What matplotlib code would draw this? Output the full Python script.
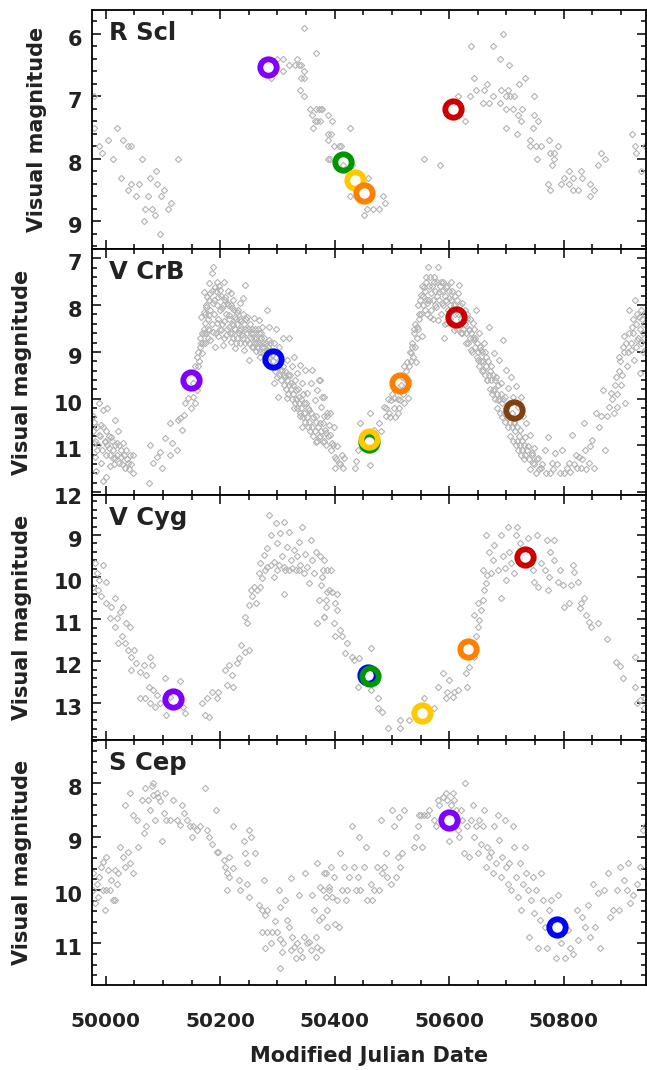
import numpy as np
import matplotlib
matplotlib.use("Agg")
import matplotlib.pyplot as plt
import matplotlib.transforms as mtransforms
from matplotlib.ticker import MultipleLocator

plt.rcParams["font.family"] = ["DejaVu Sans"]
plt.rcParams["font.weight"] = "bold"

stars = ["R Scl", "V CrB", "V Cyg", "S Cep"]

# visual light curves (MJD, mag)
rscl_lc = [
    (49979, 7.0), (49979, 7.5), (49988, 7.8), (49993, 7.9), (50004, 7.7), (50019, 7.5), (50012, 8.0),
    (50030, 7.7), (50039, 7.8), (50044, 7.8), (50063, 8.0), (50026, 8.3), (50039, 8.5), (50044, 8.4),
    (50053, 8.6), (50058, 8.4), (50074, 8.6), (50077, 8.3), (50088, 8.2), (50090, 8.4), (50096, 8.6),
    (50102, 8.5), (50114, 8.7), (50109, 8.8), (50069, 8.8), (50080, 8.8), (50086, 8.9), (50067, 9.0),
    (50095, 9.2), (50127, 8.0),
    (50289, 6.7), (50299, 6.4), (50310, 6.4), (50310, 6.6), (50321, 6.5), (50331, 6.5), (50335, 6.4),
    (50338, 6.5), (50342, 6.5), (50347, 5.9), (50347, 6.6), (50342, 6.7), (50347, 6.7), (50367, 6.3),
    (50339, 6.9), (50346, 7.0), (50357, 7.2), (50367, 7.2), (50372, 7.2), (50377, 7.2), (50361, 7.3),
    (50366, 7.4), (50370, 7.4), (50363, 7.5), (50389, 7.3), (50389, 7.6), (50389, 7.7), (50389, 8.0),
    (50378, 7.2), (50375, 7.4), (50396, 7.4), (50393, 7.6), (50398, 7.8), (50408, 7.8), (50411, 7.8),
    (50427, 7.5), (50391, 8.0), (50414, 8.1), (50431, 8.1), (50458, 8.3), (50427, 8.6), (50438, 8.6),
    (50485, 8.6), (50488, 8.7), (50456, 8.8), (50467, 8.8), (50477, 8.8), (50451, 8.9), (50556, 8.0),
    (50584, 8.1),
    (50616, 7.0), (50627, 7.4), (50639, 6.2), (50644, 6.7), (50637, 7.0), (50647, 6.9), (50661, 6.9),
    (50667, 6.8), (50660, 7.1), (50670, 7.1), (50677, 6.2), (50695, 6.0), (50689, 6.4), (50705, 6.5),
    (50677, 7.0), (50691, 6.9), (50703, 6.9), (50700, 7.0), (50707, 7.0), (50714, 7.0), (50689, 7.1),
    (50700, 7.2), (50711, 7.2), (50722, 6.8), (50733, 6.7), (50721, 7.3), (50728, 7.2), (50725, 7.4),
    (50700, 7.5), (50718, 7.6), (50749, 7.0), (50749, 7.3), (50756, 7.4), (50746, 7.5), (50742, 7.7),
    (50742, 7.8), (50752, 7.8), (50761, 7.8), (50775, 7.7), (50791, 7.8), (50777, 7.9), (50784, 7.9),
    (50753, 8.0), (50784, 8.0), (50779, 8.1), (50809, 8.2), (50800, 8.3), (50816, 8.3), (50830, 8.2),
    (50833, 8.3), (50772, 8.4), (50795, 8.4), (50809, 8.4), (50777, 8.5), (50816, 8.5), (50826, 8.5),
    (50846, 8.4), (50854, 8.5), (50847, 8.6), (50865, 7.9), (50872, 8.0), (50860, 8.1), (50919, 7.6),
    (50924, 7.8), (50926, 7.9), (50943, 7.8), (50935, 8.2),
]

vcrb_lc = [
    (49977, 10.38), (49978, 10.70), (49979, 10.95), (49981, 11.24), (49984, 11.10), (49988, 10.77),
    (49989, 10.10), (49992, 10.56), (49992, 11.38), (49995, 10.24), (49998, 10.92), (50000, 11.20),
    (50001, 10.70), (50002, 10.20), (50006, 11.06), (50007, 11.45), (50010, 10.81), (50013, 11.10),
    (50016, 10.45), (50016, 11.27), (50019, 10.95), (50022, 10.70), (50023, 11.38), (50026, 11.10),
    (50027, 11.24), (50030, 10.95), (50033, 11.49), (50000, 11.67), (50039, 11.38), (50043, 11.20),
    (50048, 11.20), (50047, 11.59), (50035, 11.10), (50013, 11.27), (49983, 11.55), (49995, 11.75),
    (49980, 10.5), (49982, 10.9), (49985, 10.6), (49987, 11.0), (49990, 10.8), (49993, 11.1),
    (49996, 10.6), (49999, 10.9), (50003, 11.0), (50005, 10.8), (50008, 11.2), (50011, 10.9),
    (50014, 11.4), (50017, 11.0), (50020, 11.2), (50024, 11.0), (50028, 11.4), (50032, 11.2),
    (50037, 11.3), (50041, 11.5), (50045, 11.4),
    (50076, 11.81), (50078, 10.99), (50083, 11.38), (50090, 11.24), (50095, 11.13), (50099, 11.49),
    (50104, 10.85), (50112, 11.20), (50113, 10.53), (50115, 10.95), (50125, 11.10), (50127, 10.45),
    (50130, 10.42), (50133, 10.67), (50136, 10.35), (50139, 10.10), (50144, 9.99), (50149, 10.20),
    (50153, 9.96), (50156, 10.10), (50152, 9.67), (50159, 9.81), (50156, 9.31), (50160, 9.10),
    (50164, 8.89), (50165, 8.71), (50168, 9.03), (50170, 8.82), (50172, 8.60), (50166, 8.25),
    (50171, 8.14), (50174, 8.39), (50176, 8.03), (50172, 7.71), (50177, 7.82), (50180, 8.21),
    (50158, 9.5), (50161, 9.3), (50162, 9.0), (50163, 9.2), (50167, 8.8), (50169, 8.6),
    (50171, 8.5), (50173, 8.8), (50174, 8.2), (50176, 8.6), (50178, 8.5), (50179, 8.7),
    (50181, 7.53), (50186, 7.32), (50188, 7.18), (50183, 7.75), (50187, 7.96), (50191, 7.61),
    (50194, 7.50), (50197, 7.82), (50200, 7.68), (50203, 8.07), (50206, 7.50), (50209, 7.82),
    (50212, 7.96), (50215, 8.21), (50218, 7.75), (50221, 8.07), (50223, 7.89), (50226, 8.25),
    (50229, 8.14), (50234, 7.96), (50236, 8.35), (50244, 7.57), (50240, 7.85), (50247, 8.25),
    (50259, 8.28), (50267, 8.32), (50282, 8.10), (50273, 8.46), (50285, 8.46), (50297, 8.50),
    (50180, 8.53), (50183, 8.75), (50188, 8.57), (50191, 8.89), (50194, 8.39), (50197, 8.67),
    (50201, 8.53), (50205, 8.85), (50207, 8.35), (50211, 8.64), (50215, 8.46), (50218, 8.78),
    (50221, 8.60), (50223, 8.42), (50226, 8.92), (50229, 8.71), (50232, 8.53), (50235, 8.82),
    (50238, 8.64), (50241, 8.96), (50244, 8.50), (50247, 8.75), (50250, 9.17), (50253, 8.60),
    (50256, 8.89), (50259, 8.71), (50262, 8.99), (50264, 8.82), (50267, 8.60), (50270, 9.10),
    (50273, 8.89), (50276, 8.71), (50279, 9.21), (50282, 8.96), (50285, 8.75), (50288, 9.31),
    (50291, 9.07), (50294, 8.82), (50300, 9.53), (50302, 8.89), (50305, 9.24), (50310, 8.71),
    (50314, 9.53), (50317, 9.17), (50320, 8.71), (50323, 9.67), (50326, 9.31), (50329, 9.10),
    (50332, 9.81), (50335, 9.46), (50338, 9.96), (50340, 9.28), (50343, 9.67), (50346, 10.10),
    (50349, 9.38), (50352, 9.88), (50355, 10.24), (50358, 9.67), (50361, 9.38), (50365, 10.03),
    (50367, 10.38), (50370, 9.81), (50373, 9.60), (50376, 10.17), (50379, 10.53), (50381, 9.96),
    (50384, 10.74), (50387, 10.31), (50390, 10.56), (50294, 9.67), (50301, 9.96), (50308, 9.38),
    (50317, 9.99), (50329, 10.20), (50340, 10.38), (50343, 10.60), (50367, 10.92), (50373, 10.81),
    (50175, 8.0), (50178, 8.3), (50180, 7.9), (50183, 8.1), (50185, 7.7), (50186, 8.4), (50189, 7.9),
    (50190, 8.2), (50192, 8.6), (50193, 7.7), (50195, 8.0), (50196, 8.3), (50198, 7.6), (50199, 8.5),
    (50200, 8.1), (50202, 7.8), (50204, 8.4), (50205, 8.0), (50207, 8.7), (50208, 7.9), (50210, 8.2),
    (50212, 8.5), (50213, 7.7), (50214, 8.0), (50216, 8.3), (50217, 8.6), (50219, 8.0), (50220, 8.4),
    (50222, 8.7), (50224, 8.1), (50225, 8.5), (50227, 8.3), (50228, 8.8), (50230, 8.4), (50231, 8.1),
    (50233, 8.6), (50234, 8.3), (50237, 8.5), (50239, 8.7), (50240, 8.2), (50242, 8.4), (50243, 8.8),
    (50245, 8.3), (50246, 8.6), (50248, 8.5), (50250, 8.8), (50252, 8.4), (50254, 8.7), (50255, 8.5),
    (50257, 8.9), (50258, 8.6), (50260, 8.5), (50261, 8.8), (50263, 8.7), (50265, 8.9), (50266, 8.5),
    (50268, 8.8), (50269, 9.0), (50271, 8.7), (50272, 8.6), (50274, 9.0), (50275, 8.8), (50277, 8.9),
    (50278, 9.1), (50280, 8.8), (50281, 9.0), (50283, 9.2), (50284, 8.9), (50286, 9.1), (50287, 8.8),
    (50289, 9.0), (50290, 9.3), (50292, 9.2), (50296, 9.4), (50298, 9.1), (50299, 9.3), (50303, 9.5),
    (50304, 9.2), (50306, 9.6), (50307, 9.4), (50309, 9.3), (50311, 9.7), (50312, 9.5), (50313, 9.4),
    (50315, 9.8), (50316, 9.6), (50318, 9.5), (50319, 9.9), (50321, 9.7), (50322, 9.5), (50324, 9.8),
    (50325, 10.0), (50327, 9.7), (50328, 9.9), (50330, 10.1), (50331, 9.6), (50333, 10.0),
    (50334, 10.2), (50336, 9.8), (50337, 10.1), (50339, 10.3), (50341, 10.0), (50342, 10.2),
    (50344, 10.4), (50345, 9.9), (50347, 10.3), (50348, 10.5), (50350, 10.1), (50351, 10.4),
    (50353, 10.6), (50354, 10.2), (50356, 10.5), (50357, 10.7), (50359, 10.3), (50360, 10.6),
    (50362, 10.8), (50363, 10.4), (50366, 10.7), (50368, 10.5), (50369, 10.9), (50371, 10.6),
    (50374, 10.8), (50377, 10.7), (50382, 10.9), (50385, 11.0), (50388, 10.8), (50393, 11.1),
    (50397, 11.0), (50402, 11.3), (50409, 11.4), (50412, 11.2),
    (50375, 9.60), (50378, 9.96), (50381, 10.38), (50375, 10.53), (50383, 10.67), (50386, 10.38),
    (50391, 10.31), (50380, 10.92), (50392, 10.77), (50395, 10.95), (50398, 10.60), (50401, 11.24),
    (50404, 11.02), (50401, 11.49), (50407, 11.38), (50416, 11.27), (50415, 11.49), (50436, 11.49),
    (50438, 11.34), (50440, 11.10), (50445, 10.53), (50448, 10.85), (50461, 10.31), (50462, 11.42),
    (50468, 10.67), (50477, 10.53), (50481, 10.70), (50486, 10.17), (50489, 10.38), (50495, 10.31),
    (50498, 10.03), (50504, 9.99), (50510, 10.31), (50515, 10.03), (50518, 9.53), (50522, 9.31),
    (50527, 9.21), (50528, 9.99), (50533, 9.03), (50536, 8.82), (50542, 9.21), (50539, 8.60),
    (50490, 10.2), (50493, 10.0), (50497, 10.4), (50500, 9.9), (50503, 10.2), (50506, 10.4),
    (50508, 9.8), (50511, 10.0), (50513, 10.2), (50516, 9.7), (50519, 9.9), (50521, 10.1),
    (50524, 9.6), (50525, 9.4), (50529, 9.6), (50530, 9.3), (50532, 9.0), (50534, 9.2),
    (50535, 8.9), (50537, 9.1), (50538, 8.5), (50540, 8.9), (50541, 8.4), (50543, 8.7),
    (50545, 8.0), (50546, 8.5), (50548, 8.3), (50549, 7.9), (50551, 8.2), (50552, 7.6), (50554, 8.0),
    (50544, 8.46), (50547, 8.18), (50550, 7.78), (50553, 8.67), (50556, 7.61), (50559, 7.50),
    (50562, 7.96), (50563, 7.18), (50567, 8.25), (50569, 7.75), (50574, 7.50), (50577, 8.03),
    (50580, 7.18), (50581, 8.32), (50583, 7.71), (50585, 7.50), (50588, 7.96), (50591, 8.71),
    (50594, 7.61), (50597, 8.39), (50600, 7.85), (50603, 7.50), (50606, 8.10), (50609, 8.53),
    (50615, 7.75), (50617, 7.57), (50620, 8.60), (50623, 7.96), (50626, 8.32), (50629, 8.82),
    (50555, 7.8), (50557, 8.1), (50558, 7.7), (50560, 7.4), (50561, 7.9), (50562, 8.2), (50564, 7.6),
    (50565, 7.9), (50566, 7.4), (50568, 8.1), (50570, 7.6), (50571, 7.9), (50572, 8.3), (50573, 7.4),
    (50575, 7.7), (50576, 8.0), (50578, 7.5), (50579, 7.8), (50582, 7.9), (50584, 7.6), (50586, 8.2),
    (50587, 7.7), (50589, 7.5), (50590, 8.0), (50592, 7.8), (50593, 8.4), (50595, 7.9), (50596, 7.6),
    (50598, 8.1), (50599, 7.7), (50601, 8.0), (50602, 8.3), (50604, 7.9), (50605, 7.7), (50607, 8.4),
    (50608, 8.0), (50610, 7.8), (50611, 8.2), (50613, 8.5), (50614, 7.9), (50616, 8.2), (50618, 8.4),
    (50619, 8.0), (50621, 8.3), (50622, 8.6), (50624, 8.2), (50625, 8.5), (50627, 8.4), (50628, 8.1),
    (50630, 8.6), (50631, 8.3), (50633, 8.8), (50634, 8.5), (50636, 8.3), (50637, 8.7), (50639, 8.6),
    (50640, 9.0), (50642, 8.7), (50643, 8.5), (50645, 8.9), (50646, 8.7), (50648, 9.1), (50649, 8.8),
    (50651, 9.0), (50652, 9.3), (50654, 8.9), (50655, 9.2), (50657, 9.0), (50658, 9.4), (50660, 9.2),
    (50662, 9.5), (50663, 9.0), (50665, 9.3), (50666, 9.6), (50668, 9.2), (50669, 9.5), (50671, 9.8),
    (50672, 9.4), (50674, 9.6), (50675, 9.9), (50677, 9.5), (50678, 9.8), (50680, 10.0), (50681, 9.6),
    (50683, 9.9), (50684, 10.2), (50686, 9.7), (50687, 10.0), (50689, 10.3), (50690, 9.9),
    (50692, 10.1), (50693, 10.4), (50695, 10.0), (50696, 10.3), (50698, 10.5), (50699, 10.2),
    (50701, 10.4), (50703, 10.6), (50704, 10.1), (50706, 10.5), (50707, 10.8), (50709, 10.3),
    (50710, 10.6), (50712, 10.9), (50713, 10.5), (50715, 10.7), (50716, 11.0), (50718, 10.6),
    (50719, 10.9), (50721, 11.1), (50722, 10.8), (50724, 11.0), (50725, 11.2), (50727, 10.9),
    (50728, 11.1), (50730, 11.3), (50731, 11.0), (50733, 11.2), (50736, 11.1), (50739, 11.3),
    (50742, 11.5), (50745, 11.2), (50748, 11.4), (50751, 11.6), (50754, 11.3), (50757, 11.5),
    (50763, 11.4), (50770, 11.6), (50782, 11.5), (50788, 11.4), (50800, 11.6), (50818, 11.4),
    (50821, 11.2), (50833, 11.3), (50840, 11.5),
    (50632, 8.18), (50635, 8.53), (50638, 8.96), (50641, 8.39), (50644, 8.75), (50647, 8.10),
    (50650, 9.17), (50653, 8.60), (50656, 8.96), (50659, 9.38), (50661, 8.82), (50664, 9.10),
    (50667, 9.60), (50670, 8.46), (50673, 9.31), (50676, 9.81), (50679, 9.03), (50682, 9.53),
    (50685, 10.03), (50688, 9.17), (50691, 9.67), (50694, 8.75), (50697, 9.96), (50700, 9.38),
    (50702, 9.78), (50705, 10.38), (50708, 9.53), (50711, 9.96), (50714, 10.53), (50717, 9.74),
    (50720, 10.17), (50723, 10.67), (50726, 9.96), (50729, 10.38), (50732, 10.81), (50735, 10.53),
    (50738, 11.02), (50741, 10.77), (50744, 11.17), (50746, 11.38), (50749, 11.06), (50755, 11.27),
    (50761, 11.49), (50767, 11.10), (50773, 10.81), (50776, 11.59), (50779, 11.38), (50785, 11.17),
    (50793, 11.59), (50797, 11.10), (50806, 11.49), (50809, 11.38), (50812, 11.56), (50815, 10.77),
    (50824, 11.49), (50827, 11.24), (50830, 11.49), (50835, 10.53), (50838, 11.10), (50844, 11.38),
    (50847, 11.02), (50850, 10.88), (50853, 11.49), (50856, 10.31), (50862, 10.60), (50865, 10.38),
    (50868, 9.81), (50872, 11.10), (50875, 10.38), (50879, 10.17), (50882, 9.88), (50888, 10.31),
    (50891, 9.53), (50894, 10.17), (50897, 9.10), (50900, 9.71), (50903, 8.89), (50905, 8.67),
    (50908, 10.10), (50911, 9.31), (50914, 8.10), (50917, 8.96), (50920, 8.46), (50923, 9.17),
    (50924, 7.89), (50928, 8.75), (50931, 8.25), (50934, 9.46), (50936, 8.10), (50939, 8.60),
    (50942, 8.96),
    (50885, 10.0), (50889, 9.7), (50893, 9.9), (50896, 9.4), (50899, 9.2), (50902, 9.5),
    (50906, 9.0), (50909, 8.8), (50912, 9.0), (50915, 8.6), (50918, 8.8), (50921, 8.3),
    (50922, 8.6), (50926, 8.4), (50927, 8.9), (50929, 8.2), (50930, 8.7), (50933, 8.5),
    (50935, 8.8), (50937, 8.3), (50938, 9.0), (50940, 8.4), (50941, 8.7), (50943, 8.2),
]

vcyg_lc = [
    (49981, 9.67), (49984, 9.91), (49978, 10.23), (49987, 10.31), (49989, 10.07), (49995, 9.71),
    (49992, 10.46), (50001, 10.11), (50001, 10.62), (50007, 10.98), (50010, 10.70), (50016, 10.50),
    (50019, 10.98), (50016, 11.18), (50025, 10.82), (50028, 11.41), (50030, 10.70), (50022, 11.57),
    (50033, 11.57), (50036, 11.10), (50039, 11.73), (50043, 11.18), (50045, 11.89), (50050, 11.73),
    (50053, 12.05), (50045, 12.21), (50060, 12.25), (50066, 12.09), (50071, 12.33), (50077, 11.89),
    (50080, 12.09), (50060, 12.88), (50068, 12.88), (50075, 12.60), (50077, 13.00), (50083, 12.68),
    (50089, 12.80), (50086, 13.08), (50095, 13.00), (50104, 12.40), (50105, 13.28), (50112, 12.84),
    (50130, 12.48), (50135, 13.08), (50139, 13.24), (50168, 13.00), (50174, 13.28), (50180, 13.32),
    (50177, 12.88), (50186, 12.72), (50194, 12.88), (50197, 12.72), (50209, 12.21), (50212, 12.56),
    (50216, 12.09), (50220, 12.33), (50223, 12.60), (50229, 12.05), (50232, 11.93), (50236, 11.61),
    (50244, 11.77), (50250, 11.73), (50247, 11.10), (50244, 10.94), (50250, 10.66), (50253, 10.31),
    (50256, 10.46), (50259, 10.23), (50262, 10.62), (50267, 9.91), (50270, 9.67), (50273, 10.03),
    (50276, 9.48), (50279, 9.83), (50282, 9.32), (50285, 8.52), (50289, 9.00), (50294, 9.63),
    (50297, 8.72), (50300, 9.20), (50302, 9.71), (50305, 8.96), (50308, 9.51), (50311, 8.68),
    (50314, 9.83), (50317, 9.28), (50320, 8.92), (50323, 9.59), (50329, 9.36), (50332, 9.83),
    (50335, 9.51), (50338, 9.16), (50340, 9.71), (50343, 8.80), (50346, 9.91), (50349, 9.44),
    (50352, 9.75), (50355, 10.15), (50358, 9.12), (50361, 9.59), (50364, 9.91), (50367, 9.40),
    (50370, 11.10), (50373, 10.54), (50376, 10.19), (50379, 9.83), (50381, 10.94), (50384, 10.70),
    (50387, 10.35), (50282, 9.75), (50288, 9.71), (50300, 9.83), (50311, 9.75), (50320, 9.83),
    (50326, 9.79), (50338, 9.83), (50270, 10.23), (50264, 10.31), (50311, 10.39), (50294, 9.99),
    (50375, 9.51), (50381, 9.59), (50387, 9.83), (50378, 9.99), (50393, 9.83), (50390, 10.31),
    (50396, 10.35), (50404, 10.39), (50401, 10.62), (50384, 10.54), (50381, 10.94), (50398, 11.10),
    (50404, 10.78), (50410, 11.26), (50401, 11.41), (50413, 11.41), (50421, 11.57), (50418, 11.81),
    (50431, 11.89), (50434, 11.97), (50442, 11.93), (50463, 11.69), (50440, 12.60), (50463, 12.68),
    (50475, 12.88), (50476, 13.12), (50482, 13.20), (50494, 13.59), (50515, 13.39), (50514, 13.59),
    (50530, 13.39), (50556, 12.88), (50574, 13.12), (50580, 12.60), (50590, 12.29), (50600, 12.44),
    (50594, 12.88), (50597, 12.72), (50606, 12.84), (50609, 12.72), (50615, 12.68), (50632, 12.60),
    (50629, 12.29), (50635, 12.13), (50644, 11.89), (50647, 11.41), (50650, 11.18), (50653, 11.02),
    (50656, 10.78), (50644, 10.90), (50650, 10.62), (50659, 10.54), (50661, 10.31), (50665, 10.15),
    (50667, 9.95), (50659, 9.83), (50664, 9.00), (50670, 9.40), (50673, 9.91), (50676, 9.59),
    (50679, 9.24), (50685, 9.83), (50691, 10.50), (50691, 9.00), (50694, 9.51), (50697, 9.79),
    (50700, 10.07), (50702, 8.80), (50705, 9.40), (50708, 9.67), (50714, 9.91), (50717, 9.00),
    (50718, 8.80), (50723, 9.20), (50738, 9.08), (50741, 9.67), (50746, 9.83), (50749, 10.11),
    (50754, 9.00), (50755, 10.23), (50761, 9.67), (50767, 9.83), (50771, 9.12), (50772, 10.31),
    (50775, 9.99), (50783, 9.12), (50777, 9.40), (50784, 9.59), (50791, 10.11), (50793, 9.83),
    (50799, 10.19), (50800, 10.70), (50810, 10.62), (50813, 10.19), (50816, 9.71), (50819, 9.87),
    (50825, 10.11), (50828, 10.74), (50831, 10.62), (50836, 10.50), (50839, 10.90), (50845, 11.06),
    (50848, 11.18), (50860, 11.10), (50875, 11.48), (50892, 12.01), (50898, 12.11), (50904, 12.40),
    (50924, 11.89), (50924, 12.60), (50928, 13.00), (50934, 12.92), (50940, 13.12), (50943, 12.88),
]

scep_lc = [
    (49977, 9.69), (49978, 10.00), (49981, 10.25), (49984, 9.88), (49986, 10.13), (49989, 9.75),
    (49992, 9.56), (49995, 10.00), (49998, 10.38), (49995, 9.47), (50001, 10.00), (50004, 9.63),
    (50007, 10.00), (50010, 9.81), (50013, 10.19), (50016, 9.63), (50019, 9.88), (50022, 9.69),
    (50001, 9.38), (50016, 10.19), (50025, 9.19), (50030, 9.38), (50033, 9.56), (50039, 9.28),
    (50043, 9.50), (50048, 9.69), (50033, 8.41), (50043, 8.19), (50048, 8.59), (50054, 8.69),
    (50056, 9.19), (50063, 8.31), (50066, 8.94), (50068, 8.09), (50071, 8.81), (50074, 8.31),
    (50077, 8.50), (50080, 8.06), (50082, 8.22), (50083, 8.00), (50086, 8.69), (50089, 8.19),
    (50092, 8.25), (50095, 8.34), (50098, 9.09), (50101, 8.56), (50104, 8.19), (50106, 8.69),
    (50112, 8.69), (50118, 8.31), (50124, 8.69), (50130, 8.78), (50133, 8.41), (50137, 8.56),
    (50142, 8.69), (50148, 8.81), (50150, 9.00), (50153, 8.81), (50159, 8.88), (50165, 8.81),
    (50174, 8.09), (50177, 8.88), (50180, 9.00), (50186, 9.13), (50192, 8.50), (50194, 9.28),
    (50197, 9.28), (50206, 9.44), (50209, 9.56), (50212, 9.69), (50215, 9.75), (50212, 10.00),
    (50216, 9.38), (50222, 8.81), (50223, 9.59), (50232, 9.81), (50235, 10.00), (50241, 9.09),
    (50244, 9.31), (50246, 9.50), (50247, 9.88), (50250, 10.13), (50250, 8.88), (50253, 9.00),
    (50261, 9.31), (50267, 10.28), (50273, 10.38), (50276, 9.81), (50279, 10.47), (50282, 10.38),
    (50273, 10.78), (50282, 10.78), (50291, 10.78), (50300, 10.78), (50279, 11.09), (50288, 11.00),
    (50296, 10.59), (50305, 10.31), (50302, 10.00), (50305, 10.91), (50310, 11.00), (50308, 11.16),
    (50305, 11.47), (50314, 10.19), (50317, 10.56), (50323, 9.78), (50320, 10.69), (50326, 10.88),
    (50329, 11.06), (50335, 11.00), (50338, 10.09), (50340, 11.13), (50346, 10.88), (50349, 9.69),
    (50352, 11.00), (50358, 11.13), (50361, 10.09), (50364, 10.38), (50367, 10.88), (50370, 9.50),
    (50373, 10.56), (50376, 11.13), (50379, 10.00), (50384, 9.69), (50387, 10.69), (50390, 10.00),
    (50323, 11.13), (50332, 11.28), (50343, 11.25), (50355, 10.97), (50367, 11.25), (50370, 11.06),
    (50375, 9.94), (50378, 10.50), (50381, 9.69), (50384, 10.13), (50387, 10.38), (50390, 9.94),
    (50393, 9.56), (50396, 10.13), (50398, 9.75), (50401, 10.63), (50404, 10.19), (50407, 10.69),
    (50410, 9.31), (50413, 10.00), (50416, 9.56), (50419, 10.19), (50422, 10.00), (50425, 9.75),
    (50430, 8.81), (50433, 9.56), (50437, 10.00), (50440, 9.75), (50442, 9.00), (50445, 10.00),
    (50451, 9.56), (50454, 9.19), (50457, 10.19), (50463, 9.88), (50466, 10.19), (50468, 10.00),
    (50474, 9.56), (50477, 10.00), (50481, 8.69), (50483, 9.69), (50486, 9.56), (50489, 9.31),
    (50492, 9.75), (50498, 9.88), (50501, 8.50), (50504, 8.81), (50507, 9.75), (50510, 9.38),
    (50513, 8.63), (50515, 9.56), (50521, 8.50), (50518, 9.31), (50539, 9.19), (50542, 9.00),
    (50545, 8.81), (50548, 8.59), (50550, 8.59), (50556, 8.59), (50562, 8.59), (50553, 9.19),
    (50565, 8.50), (50574, 8.69), (50577, 8.81), (50580, 8.31), (50583, 8.41), (50589, 8.25),
    (50595, 8.19), (50597, 8.31), (50600, 9.09), (50603, 8.41), (50606, 8.19), (50609, 8.31),
    (50612, 8.50), (50615, 8.88), (50618, 9.00), (50620, 8.50), (50623, 8.69), (50626, 9.31),
    (50628, 8.00), (50632, 8.81), (50635, 9.38), (50638, 8.69), (50641, 8.41), (50644, 9.00),
    (50647, 8.81), (50650, 9.31), (50653, 8.69), (50656, 9.13), (50659, 8.81), (50661, 8.50),
    (50664, 9.56), (50667, 9.19), (50670, 9.38), (50673, 9.28), (50676, 9.69), (50679, 8.81),
    (50682, 9.50), (50685, 8.59), (50688, 9.06), (50690, 9.75), (50693, 9.38), (50697, 8.69),
    (50699, 9.56), (50702, 9.88), (50705, 9.50), (50708, 10.00), (50711, 8.81), (50714, 9.19),
    (50717, 9.75), (50720, 10.13), (50723, 9.50), (50726, 10.38), (50729, 9.88), (50732, 9.19),
    (50734, 9.69), (50738, 10.00), (50740, 10.88), (50743, 10.19), (50746, 9.75), (50749, 10.44),
    (50752, 10.00), (50755, 11.09), (50758, 10.56), (50761, 9.69), (50764, 10.19), (50767, 10.69),
    (50771, 11.09), (50775, 10.38), (50778, 10.19), (50786, 11.28), (50790, 10.09), (50796, 11.00),
    (50803, 11.28), (50808, 10.75), (50811, 11.09), (50817, 11.19), (50823, 10.38), (50826, 10.94),
    (50832, 10.50), (50838, 10.69), (50842, 10.28), (50846, 10.88), (50852, 9.88), (50855, 10.69),
    (50861, 10.06), (50864, 11.09), (50870, 10.00), (50877, 9.69), (50881, 10.50), (50887, 10.38),
    (50893, 10.00), (50896, 10.38), (50899, 9.56), (50905, 9.81), (50911, 10.00), (50913, 9.50),
    (50916, 10.25), (50922, 10.09), (50928, 9.88), (50934, 9.56), (50939, 8.88), (50943, 8.81),
]

# observation epochs (MJD, mag) marked with rings
rscl_epochs = [(50284, 6.53), (50414, 8.05), (50435, 8.33), (50451, 8.55), (50607, 7.20)]
rscl_colors = ["purple", "green", "yellow", "orange", "red"]
vcrb_epochs = [(50149, 9.60), (50293, 9.15), (50460, 10.92), (50460, 10.87), (50514, 9.66),
               (50612, 8.25), (50713, 10.24)]
vcrb_colors = ["purple", "blue", "green", "yellow", "orange", "red", "brown"]
vcyg_epochs = [(50117, 12.89), (50458, 12.32), (50461, 12.34), (50552, 13.23), (50633, 11.72),
               (50732, 9.52)]
vcyg_colors = ["purple", "blue", "green", "yellow", "orange", "red"]
scep_epochs = [(50600, 8.69), (50788, 10.70)]
scep_colors = ["purple", "blue"]

ring = {"purple": "#8000ff", "blue": "#0000ff", "green": "#009600", "yellow": "#ffc800",
        "orange": "#ff8000", "red": "#cc0000", "brown": "#804010"}

curves = [rscl_lc, vcrb_lc, vcyg_lc, scep_lc]
epochs = [rscl_epochs, vcrb_epochs, vcyg_epochs, scep_epochs]
colors = [rscl_colors, vcrb_colors, vcyg_colors, scep_colors]
ylims = [(9.44, 5.62), (12.06, 6.80), (13.87, 8.05), (11.78, 7.19)]

W, H = 647, 1070
fig = plt.figure(figsize=(W / 100, H / 100), dpi=100)
edges = [1060, 821, 575, 330, 85]
txt = "#222222"

for i in range(4):
    ax = fig.add_axes([92 / W, edges[i + 1] / H, 554 / W, (edges[i] - edges[i + 1]) / H])
    lc = np.array(curves[i])
    ax.plot(lc[:, 0], lc[:, 1], ls="none", marker="D", ms=3.2, mfc="none", mec="#b4b4b4", mew=0.8)
    for (x, y), c in zip(epochs[i], colors[i]):
        ax.plot(x, y, ls="none", marker="o", ms=11.8, mfc="none", mec=ring[c], mew=4.2)
    ax.set_xlim(49976, 50944)
    ax.set_ylim(*ylims[i])
    ax.xaxis.set_major_locator(MultipleLocator(200))
    ax.xaxis.set_minor_locator(MultipleLocator(50))
    ax.yaxis.set_major_locator(MultipleLocator(1))
    ax.yaxis.set_minor_locator(MultipleLocator(0.2))
    ax.tick_params(which="both", direction="in", top=True, right=True, width=1.1, labelcolor=txt)
    ax.tick_params(which="major", length=6.5)
    ax.tick_params(which="minor", length=3.5)
    ax.tick_params(axis="y", labelsize=15, pad=7)
    ax.tick_params(axis="x", labelsize=14.5, pad=19.5)
    for s in ax.spines.values():
        s.set_linewidth(1.3)
    ax.set_ylabel("Visual magnitude", fontsize=15, fontweight="bold", color=txt, labelpad=15)
    ax.text(0.03, 0.955, stars[i], transform=ax.transAxes, fontsize=17.5, fontweight="bold",
            color=txt, va="top", ha="left")
    if i < 3:
        ax.tick_params(axis="x", labelbottom=False)
    else:
        ax.set_xlabel("Modified Julian Date", fontsize=15, fontweight="bold", color=txt, labelpad=11)
    shift = mtransforms.ScaledTranslation(0, -4 / 100, fig.dpi_scale_trans)
    for lab in ax.get_yticklabels():
        lab.set_transform(lab.get_transform() + shift)

fig.savefig("out.png", dpi=100)
